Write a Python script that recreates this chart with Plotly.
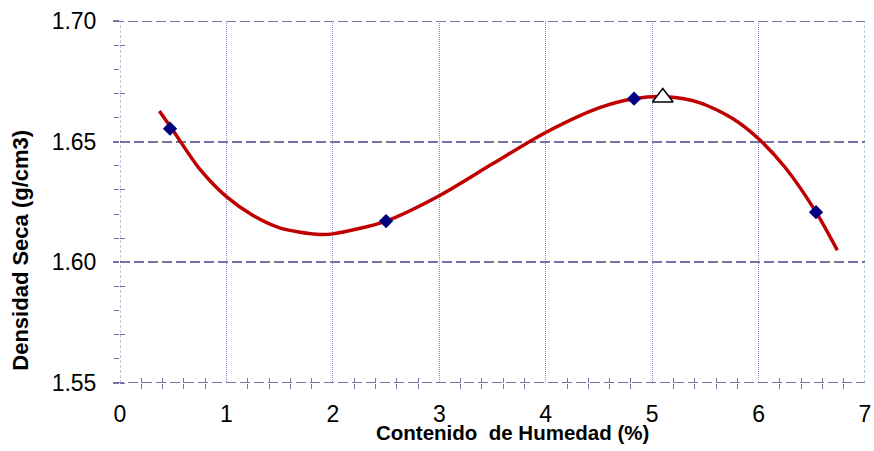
import plotly.graph_objects as go

# measured points (moisture %, dry density g/cm3)
humedad = [0.47, 2.50, 4.83, 6.54]
densidad = [1.6554, 1.6171, 1.6678, 1.6208]

# maximum point (triangle)
hum_max = [5.10]
dens_max = [1.6683]

# trend curve
curva_x = [0.37, 0.50, 0.75, 1.00, 1.25, 1.50, 1.85, 2.00, 2.50, 3.00,
           3.50, 4.00, 4.50, 4.83, 5.13, 5.45, 5.76, 6.00, 6.25, 6.54, 6.74]
curva_y = [1.6627, 1.6545, 1.6386, 1.6272, 1.6194, 1.6143, 1.6116, 1.6118, 1.6171, 1.6276,
           1.6408, 1.6538, 1.6640, 1.6678, 1.6686, 1.6661, 1.6595, 1.6512, 1.6393, 1.6208, 1.6050]

x_lim = [0, 7]
y_lim = [1.55, 1.70]

GRID_H = "#7474A4"
GRID_V = "#8A8ABE"
FONT = "Liberation Sans, Arial, sans-serif"

fig = go.Figure()
fig.add_trace(go.Scatter(
    x=curva_x, y=curva_y, mode="lines",
    line=dict(color="#C00000", width=3.5, shape="spline", smoothing=0.8),
    showlegend=False,
))
fig.add_trace(go.Scatter(
    x=humedad, y=densidad, mode="markers",
    marker=dict(symbol="diamond", size=11, color="#000080"),
    showlegend=False,
))
fig.add_trace(go.Scatter(
    x=hum_max, y=dens_max, mode="markers",
    marker=dict(symbol="triangle-up", size=18, color="white",
                line=dict(color="black", width=1.5)),
    showlegend=False,
))
# empty trace so the overlay axes (inner half of the crossing minor ticks) get drawn
fig.add_trace(go.Scatter(x=[], y=[], xaxis="x2", yaxis="y2", showlegend=False))

# frame lines at the range edges (plotly drops gridlines there)
for yv in y_lim:
    fig.add_shape(type="line", xref="paper", x0=-0.008, x1=1, yref="y", y0=yv, y1=yv,
                  line=dict(color=GRID_H, width=2.2, dash="10px,4px"), layer="below")
for xv in x_lim:
    fig.add_shape(type="line", xref="x", x0=xv, x1=xv, yref="paper", y0=0, y1=1,
                  line=dict(color=GRID_V, width=1, dash="3px,2px"), layer="below")

# axis titles as annotations: both sit off-centre in the original
fig.add_annotation(text="<b>Contenido  de Humedad (%)</b>", xref="paper", yref="paper",
                   x=0.5265, y=-0.137, xanchor="center", yanchor="middle",
                   showarrow=False, font=dict(size=20.5))
fig.add_annotation(text="<b>Densidad Seca (g/cm3)</b>", xref="paper", yref="paper",
                   x=-0.133, y=0.368, xanchor="center", yanchor="middle", textangle=-90,
                   showarrow=False, font=dict(size=22))

fig.update_layout(
    width=874, height=451,
    paper_bgcolor="white", plot_bgcolor="white",
    margin=dict(l=120, r=9, t=21, b=68),
    font=dict(family=FONT, color="black", size=23),
    xaxis=dict(
        range=x_lim, dtick=1, showgrid=True, gridcolor=GRID_V, gridwidth=1,
        griddash="1px,1px", zeroline=False, showline=False, automargin=False,
        ticks="", ticklabelstandoff=15, ticklabeloverflow="allow", tickfont=dict(size=23),
        minor=dict(dtick=0.2, ticks="outside", ticklen=5, tickcolor=GRID_H,
                   tickwidth=1, showgrid=False),
    ),
    yaxis=dict(
        range=y_lim, dtick=0.05, tickformat=".2f", showgrid=True,
        gridcolor=GRID_H, gridwidth=2.2, griddash="10px,4px", zeroline=False,
        showline=False, automargin=False, ticks="outside", ticklen=6,
        tickcolor=GRID_H, tickwidth=2, ticklabelstandoff=12,
        ticklabeloverflow="allow", tickfont=dict(size=23),
        minor=dict(dtick=0.01, ticks="outside", ticklen=5, tickcolor=GRID_H,
                   tickwidth=1, showgrid=False),
    ),
    xaxis2=dict(
        range=x_lim, overlaying="x", anchor="y2", showgrid=False, zeroline=False,
        showticklabels=False, ticks="", automargin=False,
        minor=dict(dtick=0.2, ticks="inside", ticklen=5, tickcolor=GRID_H,
                   tickwidth=1, showgrid=False),
    ),
    yaxis2=dict(
        range=y_lim, overlaying="y", anchor="x2", side="left", showgrid=False,
        zeroline=False, showticklabels=False, ticks="", automargin=False,
        minor=dict(dtick=0.01, ticks="inside", ticklen=5, tickcolor=GRID_H,
                   tickwidth=1, showgrid=False),
    ),
)

# drop the browser's default 8px body margin so the figure fills the window exactly
fig.write_html(
    "out.html",
    config={"displayModeBar": False},
    post_script="document.body.style.margin='0';document.body.style.overflow='hidden';",
)
